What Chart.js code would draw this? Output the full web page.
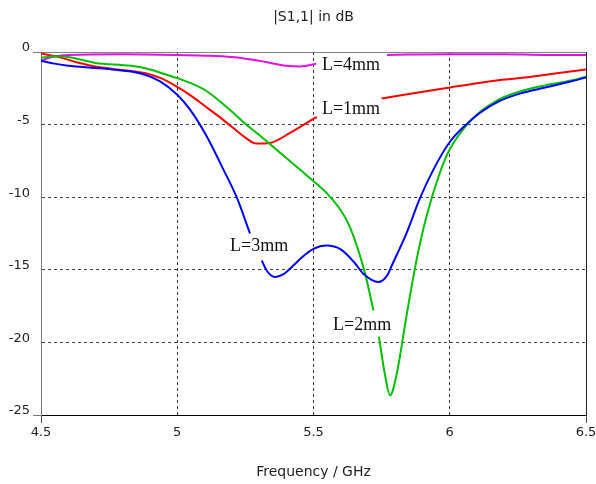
<!DOCTYPE html>
<html lang="en">
<head>
    <meta charset="UTF-8">
    <title>|S1,1| in dB</title>
    <script src="https://cdn.jsdelivr.net/npm/chart.js"></script>
    <style>
        body { margin: 0; background: #fff; }
        canvas { display: block; }
    </style>
</head>
<body>
<canvas id="chart" width="596" height="484"></canvas>
<script>
    // L = 1mm (red)
    const l1Freq = [4.5, 4.57, 4.63, 4.7, 4.77, 4.83, 4.88, 4.94, 5.0, 5.05, 5.1, 5.15, 5.2, 5.25, 5.29, 5.34, 5.414, 5.46, 5.512, 5.6, 5.75, 5.85, 6.0, 6.1, 6.2, 6.3, 6.4, 6.5];
    const l1Loss = [-0.1, -0.37, -0.7, -1.0, -1.18, -1.3, -1.45, -1.8, -2.4, -3.0, -3.7, -4.4, -5.15, -5.9, -6.3, -6.26, -5.57, -5.05, -4.47, null, -3.2, -2.9, -2.45, -2.15, -1.9, -1.7, -1.45, -1.2];

    // L = 2mm (green)
    const l2Freq = [4.5, 4.55, 4.6, 4.7, 4.83, 4.9, 4.95, 5.0, 5.1, 5.2, 5.25, 5.3, 5.35, 5.4, 5.45, 5.5, 5.55, 5.6, 5.63, 5.66, 5.69, 5.72, 5.73, 5.74, 5.762, 5.781, 5.805, 5.842, 5.879, 5.915, 5.964, 6.0, 6.05, 6.1, 6.15, 6.2, 6.26, 6.35, 6.45, 6.5];
    const l2Loss = [-0.4, -0.3, -0.35, -0.75, -0.95, -1.2, -1.5, -1.8, -2.6, -4.1, -4.95, -5.7, -6.5, -7.3, -8.1, -8.9, -9.75, -10.9, -11.9, -13.4, -15.3, -17.8, null, -19.6, -22.2, -23.65, -22.2, -18.1, -14.25, -11.3, -8.3, -6.7, -5.3, -4.3, -3.6, -3.1, -2.7, -2.3, -1.95, -1.7];

    // L = 3mm (blue)
    const l3Freq = [4.5, 4.55, 4.6, 4.7, 4.76, 4.863, 4.937, 5.0, 5.047, 5.108, 5.169, 5.218, 5.267, 5.29, 5.31, 5.33, 5.359, 5.39, 5.426, 5.46, 5.5, 5.548, 5.6, 5.65, 5.683, 5.738, 5.77, 5.79, 5.843, 5.89, 5.94, 6.0, 6.06, 6.11, 6.18, 6.26, 6.35, 6.45, 6.5];
    const l3Loss = [-0.6, -0.8, -0.95, -1.1, -1.2, -1.46, -2.03, -2.95, -3.97, -5.8, -8.08, -10.0, -12.5, null, -14.36, -15.1, -15.5, -15.3, -14.7, -14.1, -13.56, -13.33, -13.6, -14.5, -15.27, -15.84, -15.4, -14.6, -12.4, -10.1, -8.1, -6.2, -5.0, -4.2, -3.4, -2.85, -2.45, -2.0, -1.75];

    // L = 4mm (magenta)
    const l4Freq = [4.5, 4.55, 4.6, 4.8, 5.0, 5.1, 5.2, 5.3, 5.4, 5.45, 5.5, 5.51, 5.6, 5.77, 6.0, 6.2, 6.35, 6.5];
    const l4Loss = [-0.6, -0.3, -0.2, -0.15, -0.2, -0.25, -0.35, -0.6, -0.95, -1.0, -0.85, -0.8, null, -0.2, -0.15, -0.15, -0.2, -0.2];

    const xTicks = [4.5, 5, 5.5, 6, 6.5];
    const yTicks = [0, -5, -10, -15, -20, -25];

    // curve labels: text, frequency, dB (left edge / vertical middle)
    const curveLabels = ['L=4mm', 'L=1mm', 'L=3mm', 'L=2mm'];
    const labelFreq = [5.531, 5.531, 5.194, 5.572];
    const labelLoss = [-0.89, -3.97, -13.36, -18.84];

    function toPoints(xs, ys) {
        return xs.map((x, i) => ({ x: x, y: ys[i] }));
    }

    function line(data, color) {
        return {
            data: data,
            borderColor: color,
            borderWidth: 2,
            pointRadius: 0,
            cubicInterpolationMode: 'monotone',
            spanGaps: false,
            fill: false
        };
    }

    const edgeX = v => v === xTicks[0] || v === xTicks[xTicks.length - 1];
    const edgeY = v => v === yTicks[0] || v === yTicks[yTicks.length - 1];

    const frame = {
        id: 'frame',
        beforeDatasetsDraw(chart) {
            const a = chart.chartArea, ctx = chart.ctx;
            ctx.save();
            ctx.lineWidth = 1;
            ctx.strokeStyle = '#808080';
            ctx.beginPath();
            ctx.moveTo(Math.round(a.left), Math.round(a.top) + 0.5);
            ctx.lineTo(Math.round(a.right), Math.round(a.top) + 0.5);
            ctx.stroke();
            ctx.strokeStyle = '#222';
            ctx.beginPath();
            ctx.moveTo(Math.round(a.right) + 0.5, Math.round(a.top));
            ctx.lineTo(Math.round(a.right) + 0.5, Math.round(a.bottom));
            ctx.stroke();
            ctx.restore();
        }
    };

    const curveText = {
        id: 'curveText',
        afterDatasetsDraw(chart) {
            const ctx = chart.ctx, xs = chart.scales.x, ys = chart.scales.y;
            ctx.save();
            ctx.font = '18px "Liberation Serif", "Times New Roman", serif';
            ctx.fillStyle = '#111';
            ctx.textAlign = 'left';
            ctx.textBaseline = 'middle';
            curveLabels.forEach((t, i) => {
                ctx.fillText(t, xs.getPixelForValue(labelFreq[i]), ys.getPixelForValue(labelLoss[i]));
            });
            ctx.restore();
        }
    };

    const tickFont = { family: 'DejaVu Sans', size: 13 };
    const titleFont = { family: 'DejaVu Sans', size: 14, weight: 'normal' };

    new Chart(document.getElementById('chart'), {
        type: 'line',
        data: {
            datasets: [
                line(toPoints(l3Freq, l3Loss), '#0000ff'),
                line(toPoints(l2Freq, l2Loss), '#00c000'),
                line(toPoints(l1Freq, l1Loss), '#ff0000'),
                line(toPoints(l4Freq, l4Loss), '#e010e0')
            ]
        },
        options: {
            responsive: false,
            animation: false,
            layout: { padding: { left: 0, right: 10, top: 0, bottom: 0 } },
            plugins: {
                legend: { display: false },
                tooltip: { enabled: false },
                title: {
                    display: true,
                    fullSize: false,
                    text: '|S1,1| in dB',
                    color: '#222',
                    font: titleFont,
                    padding: { top: 8.6, bottom: 26.6 }
                }
            },
            scales: {
                x: {
                    type: 'linear',
                    min: 4.5,
                    max: 6.5,
                    afterBuildTicks: s => { s.ticks = xTicks.map(v => ({ value: v })); },
                    afterFit: s => { s.height = 69; s.paddingLeft = 0; s.paddingRight = 0; },
                    ticks: { color: '#222', font: tickFont, padding: 2.2, maxRotation: 0, autoSkip: false, callback: v => String(v) },
                    grid: {
                        color: c => edgeX(c.tick.value) ? 'rgba(0,0,0,0)' : '#333',
                        tickColor: c => edgeX(c.tick.value) ? '#555' : 'rgba(0,0,0,0)',
                        tickLength: 8,
                        tickBorderDash: [],
                        lineWidth: 1
                    },
                    border: { display: true, color: '#000', width: 1, dash: [3, 3] },
                    title: {
                        display: true,
                        text: 'Frequency / GHz',
                        color: '#222',
                        font: titleFont,
                        padding: { top: 0, bottom: 3.6 }
                    }
                },
                y: {
                    type: 'linear',
                    min: -25,
                    max: 0,
                    afterBuildTicks: s => { s.ticks = yTicks.map(v => ({ value: v })); },
                    afterFit: s => { s.width = 41; s.paddingTop = 0; s.paddingBottom = 0; },
                    ticks: { color: '#222', font: tickFont, padding: 3, labelOffset: -4, callback: v => String(v) },
                    grid: {
                        color: c => edgeY(c.tick.value) ? 'rgba(0,0,0,0)' : '#444',
                        tickColor: c => edgeY(c.tick.value) ? '#777' : 'rgba(0,0,0,0)',
                        tickLength: 8,
                        tickBorderDash: [],
                        lineWidth: 1
                    },
                    border: { display: true, color: '#777', width: 1, dash: [3, 3] }
                }
            }
        },
        plugins: [frame, curveText]
    });
</script>
</body>
</html>
